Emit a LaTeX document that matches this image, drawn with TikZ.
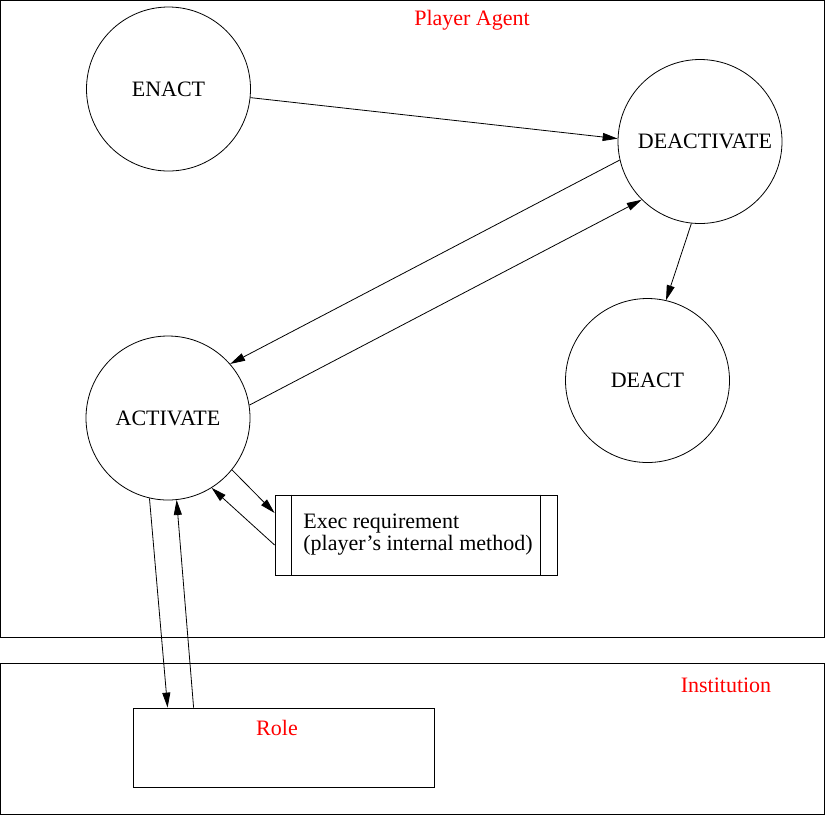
\documentclass[tikz,border=0pt]{standalone}
\usepackage{fontspec}
\setmainfont{Liberation Serif}
\usetikzlibrary{positioning}
\usetikzlibrary{arrows.meta}

\begin{document}
\begin{tikzpicture}[x=0.5pt,y=-0.5pt,>={Triangle[length=7.5pt,width=4pt]},
    font=\fontsize{11}{12}\selectfont,
    state/.style={draw,circle,minimum size=82pt,inner sep=0pt},
    frame/.style={draw,rectangle,inner sep=0pt},
    title/.style={text=red}]
    \useasboundingbox (0,0) rectangle (825,816);
    % frames
    \node (agent) [frame,minimum width=412pt,minimum height=318.5pt] at (412,318.5) {};
    \node (inst) [frame,minimum width=412pt,minimum height=75.5pt] at (412,738.5) {};
    \node (agentname) [title] at (472,20) {Player Agent};
    \node (instname) [title] at (726,685) {Institution};
    \node (role) [frame,minimum width=150.5pt,minimum height=39.5pt] at (283.5,747.5) {};
    \node (rolename) [title] at (277,728) {Role};
    % states
    \node (ENACT) [state] at (168.5,89) {ENACT};
    \node (DEACTIVATE) [state] at (700,141.5) {\hspace{5pt}DEACTIVATE};
    \node (DEACT) [state] at (647.5,380.5) {DEACT};
    \node (ACTIVATE) [state] at (168,418) {ACTIVATE};
    \node (exec) [frame,minimum width=141pt,minimum height=40pt,align=left,
        font=\fontsize{11}{8.8}\selectfont] at (416,535)
        {\hspace{2pt}Exec requirement\\\hspace{2pt}(player’s internal method)};
    \draw ([xshift=8.5pt]exec.north west) -- ([xshift=8.5pt]exec.south west);
    \draw ([xshift=-8.5pt]exec.north east) -- ([xshift=-8.5pt]exec.south east);
    % transitions
    \draw [->] (ENACT.-6) -- (DEACTIVATE.178);
    \draw [->] (DEACTIVATE.-167) -- (ACTIVATE.41);
    \draw [->] (ACTIVATE.9) -- (DEACTIVATE.225);
    \draw [->] (DEACTIVATE.264) -- (DEACT.77);
    \draw [->] (ACTIVATE.-39) -- ([yshift=11pt]exec.west);
    \draw [->] ([yshift=-5pt]exec.west) -- (ACTIVATE.-58);
    \draw [->] (ACTIVATE.257) -- ([xshift=17.5pt]role.north west);
    \draw [->] ([xshift=30.5pt]role.north west) -- (ACTIVATE.276);
\end{tikzpicture}
\end{document}
